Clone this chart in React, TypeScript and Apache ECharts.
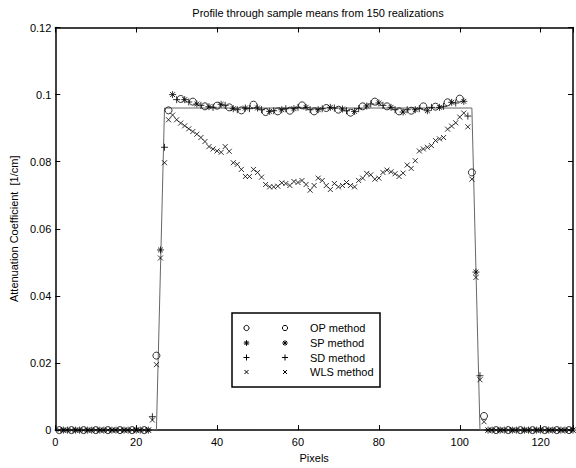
import React, { useEffect, useRef } from "react";
import * as echarts from "echarts";

// ---- data ----
const TITLE = "Profile through sample means from 150 realizations";
const X_NAME = "Pixels";
const Y_NAME = "Attenuation Coefficient  [1/cm]";
const X_MIN = 0;
const X_MAX = 128;
const X_STEP = 20;
const Y_MIN = 0;
const Y_MAX = 0.12;
const Y_STEP = 0.02;

// true profile (grey line)
const truthX = [1, 25, 26, 27, 103, 104, 105, 128];
const truthY = [0, 0, 0.048, 0.096, 0.096, 0.048, 0, 0];

// OP method: pixels 1, 4, 7, ... (every 3rd)
const opStart = 1;
const opValues = [
  0, 0, 0, 0, 0, 0, 0, 0,
  0.0222, 0.0953, 0.0987, 0.0979, 0.0965, 0.0967, 0.0962, 0.0953, 0.097, 0.0948,
  0.095, 0.0952, 0.0968, 0.095, 0.096, 0.0955, 0.0946, 0.0965, 0.0979, 0.0965,
  0.095, 0.0952, 0.0965, 0.0964, 0.0977, 0.0988, 0.0768, 0.0042,
  0, 0, 0, 0, 0, 0, 0,
];

// SP method: pixels 2, 5, 8, ...
const spStart = 2;
const spValues = [
  0, 0, 0, 0, 0, 0, 0, 0,
  0.0537, 0.1, 0.0985, 0.0972, 0.0964, 0.0971, 0.0958, 0.096, 0.096, 0.095,
  0.0955, 0.0958, 0.0962, 0.0955, 0.0962, 0.0957, 0.095, 0.0966, 0.0975, 0.0962,
  0.0948, 0.0955, 0.0952, 0.0962, 0.0977, 0.098, 0.0471,
  0, 0, 0, 0, 0, 0, 0, 0,
];

// SD method: pixels 3, 6, 9, ...
const sdStart = 3;
const sdValues = [
  0, 0, 0, 0, 0, 0, 0,
  0.004, 0.0843, 0.0985, 0.0978, 0.0968, 0.0962, 0.0968, 0.0955, 0.0958, 0.0955,
  0.0952, 0.0958, 0.0962, 0.0955, 0.0958, 0.096, 0.0952, 0.0958, 0.0972, 0.0968,
  0.0955, 0.0955, 0.0958, 0.0962, 0.0965, 0.0975, 0.0936, 0.0162,
  0, 0, 0, 0, 0, 0, 0,
];

// WLS method: every pixel 1..128
const wlsStart = 1;
const wlsValues = [
  0, 0, 0, 0, 0, 0, 0, 0, 0, 0, 0, 0, 0, 0, 0, 0, 0, 0, 0, 0, 0, 0, 0,
  0.003, 0.0195, 0.0513, 0.0797, 0.0925, 0.0939, 0.0925, 0.0915, 0.0907, 0.0898,
  0.089, 0.0882, 0.0872, 0.086, 0.0845, 0.0838, 0.0832, 0.0828, 0.0845, 0.0831,
  0.0797, 0.0792, 0.0777, 0.0756, 0.0756, 0.0777, 0.0768, 0.0754, 0.0732, 0.0725,
  0.0725, 0.0727, 0.0737, 0.0735, 0.0729, 0.0741, 0.0738, 0.0744, 0.0732, 0.0715,
  0.0729, 0.0751, 0.0744, 0.0729, 0.0717, 0.0735, 0.0725, 0.0729, 0.0738, 0.0729,
  0.0725, 0.0744, 0.0751, 0.0765, 0.0761, 0.0748, 0.0751, 0.0768, 0.0775, 0.077,
  0.0764, 0.0756, 0.0766, 0.079, 0.078, 0.0803, 0.0832, 0.0838, 0.0843, 0.0848,
  0.0863, 0.0868, 0.0872, 0.0897, 0.0906, 0.0916, 0.0933, 0.0945, 0.0904, 0.0748,
  0.0455, 0.015, 0.0025,
  0, 0, 0, 0, 0, 0, 0, 0, 0, 0, 0, 0, 0, 0, 0, 0, 0, 0, 0, 0, 0, 0,
];

const legendLabels = ["OP method", "SP method", "SD method", "WLS method"];

// ---- rendering ----
const FONT = "'Liberation Sans', Arial, Helvetica, sans-serif";
const PATH_PLUS = "path://M5,0L5,10M0,5L10,5";
const PATH_X = "path://M0,0L10,10M10,0L0,10";
const PATH_STAR = "path://M5,0L5,10M0,5L10,5M1.5,1.5L8.5,8.5M8.5,1.5L1.5,8.5";

function stepData(start: number, step: number, vals: number[]) {
  return vals.map((v, k) => [start + step * k, v]);
}

function legendMarker(kind: string, cx: number, cy: number): any[] {
  const st = { stroke: "#000", lineWidth: 1 };
  const ln = (x1: number, y1: number, x2: number, y2: number) => ({
    type: "line",
    shape: { x1, y1, x2, y2 },
    style: st,
    z: 101,
  });
  if (kind === "o")
    return [{ type: "circle", shape: { cx, cy, r: 2.6 }, style: { fill: "none", ...st }, z: 101 }];
  if (kind === "+") return [ln(cx - 3, cy, cx + 3, cy), ln(cx, cy - 3, cx, cy + 3)];
  if (kind === "x") return [ln(cx - 2, cy - 2, cx + 2, cy + 2), ln(cx + 2, cy - 2, cx - 2, cy + 2)];
  return [
    ln(cx - 2.8, cy, cx + 2.8, cy),
    ln(cx, cy - 2.8, cx, cy + 2.8),
    ln(cx - 2, cy - 2, cx + 2, cy + 2),
    ln(cx + 2, cy - 2, cx - 2, cy + 2),
  ];
}

export default function App() {
  const ref = useRef<HTMLDivElement>(null);

  useEffect(() => {
    if (!ref.current) return;
    const chart = echarts.init(ref.current, undefined, { renderer: "svg" });

    const axisLine = { show: true, onZero: false, lineStyle: { color: "#000", width: 1.5 } };
    const axisTick = { show: true, inside: true, length: 5, lineStyle: { color: "#000", width: 1 } };
    const xFmt = (v: number) => (v % X_STEP === 0 ? String(v) : "");
    const yFmt = (v: number) => String(Number(v.toFixed(2)));

    const kinds = ["o", "*", "+", "x"];
    const rowsY = [328, 343, 357.5, 372];
    const graphics: any[] = [
      {
        type: "rect",
        shape: { x: 232, y: 313, width: 148, height: 74 },
        style: { fill: "#fff", stroke: "#000", lineWidth: 1.5 },
        z: 100,
      },
    ];
    legendLabels.forEach((lab, r) => {
      graphics.push(...legendMarker(kinds[r], 246.5, rowsY[r]));
      graphics.push(...legendMarker(kinds[r], 285, rowsY[r]));
      graphics.push({
        type: "text",
        x: 310,
        y: rowsY[r],
        style: { text: lab, fill: "#000", fontSize: 11, fontFamily: FONT, verticalAlign: "middle" },
        z: 101,
      });
    });

    const markerStyle = { color: "rgba(0,0,0,0)", borderColor: "#000", borderWidth: 1 };

    chart.setOption({
      animation: false,
      backgroundColor: "#fff",
      title: {
        text: TITLE,
        left: 313,
        textAlign: "center",
        top: 2,
        textStyle: { fontSize: 11, fontWeight: "normal", color: "#000", fontFamily: FONT },
      },
      grid: { left: 52, right: 2, top: 27.5, bottom: 28.5, containLabel: false },
      xAxis: [
        {
          type: "value",
          min: X_MIN,
          max: X_MAX,
          interval: X_STEP,
          position: "bottom",
          axisLine,
          axisTick,
          splitLine: { show: false },
          axisLabel: { color: "#000", fontSize: 11, fontFamily: FONT, margin: 6, formatter: xFmt },
          name: X_NAME,
          nameLocation: "middle",
          nameGap: 18,
          nameTextStyle: { color: "#000", fontSize: 11, fontFamily: FONT },
        },
        {
          type: "value",
          min: X_MIN,
          max: X_MAX,
          interval: X_STEP,
          position: "top",
          axisLine,
          axisTick,
          splitLine: { show: false },
          axisLabel: { show: false },
        },
      ],
      yAxis: [
        {
          type: "value",
          min: Y_MIN,
          max: Y_MAX,
          interval: Y_STEP,
          position: "left",
          axisLine,
          axisTick,
          splitLine: { show: false },
          axisLabel: { color: "#000", fontSize: 11, fontFamily: FONT, margin: 4, formatter: yFmt },
          name: Y_NAME,
          nameLocation: "middle",
          nameGap: 29,
          nameTextStyle: { color: "#000", fontSize: 11, fontFamily: FONT },
        },
        {
          type: "value",
          min: Y_MIN,
          max: Y_MAX,
          interval: Y_STEP,
          position: "right",
          axisLine,
          axisTick,
          splitLine: { show: false },
          axisLabel: { show: false },
        },
      ],
      series: [
        {
          type: "line",
          data: truthX.map((x, i) => [x, truthY[i]]),
          showSymbol: false,
          symbol: "none",
          lineStyle: { color: "#666", width: 1 },
          z: 1,
        },
        {
          type: "scatter",
          name: "OP method",
          data: stepData(opStart, 3, opValues),
          symbol: "circle",
          symbolSize: 7,
          itemStyle: markerStyle,
          z: 2,
        },
        {
          type: "scatter",
          name: "SP method",
          data: stepData(spStart, 3, spValues),
          symbol: PATH_STAR,
          symbolSize: 7,
          itemStyle: markerStyle,
          z: 2,
        },
        {
          type: "scatter",
          name: "SD method",
          data: stepData(sdStart, 3, sdValues),
          symbol: PATH_PLUS,
          symbolSize: 7,
          itemStyle: markerStyle,
          z: 2,
        },
        {
          type: "scatter",
          name: "WLS method",
          data: stepData(wlsStart, 1, wlsValues),
          symbol: PATH_X,
          symbolSize: 5,
          itemStyle: markerStyle,
          z: 2,
        },
      ],
      graphic: graphics,
    });

    return () => chart.dispose();
  }, []);

  return <div ref={ref} style={{ width: 576, height: 468, position: "absolute", left: 0, top: 0 }} />;
}
